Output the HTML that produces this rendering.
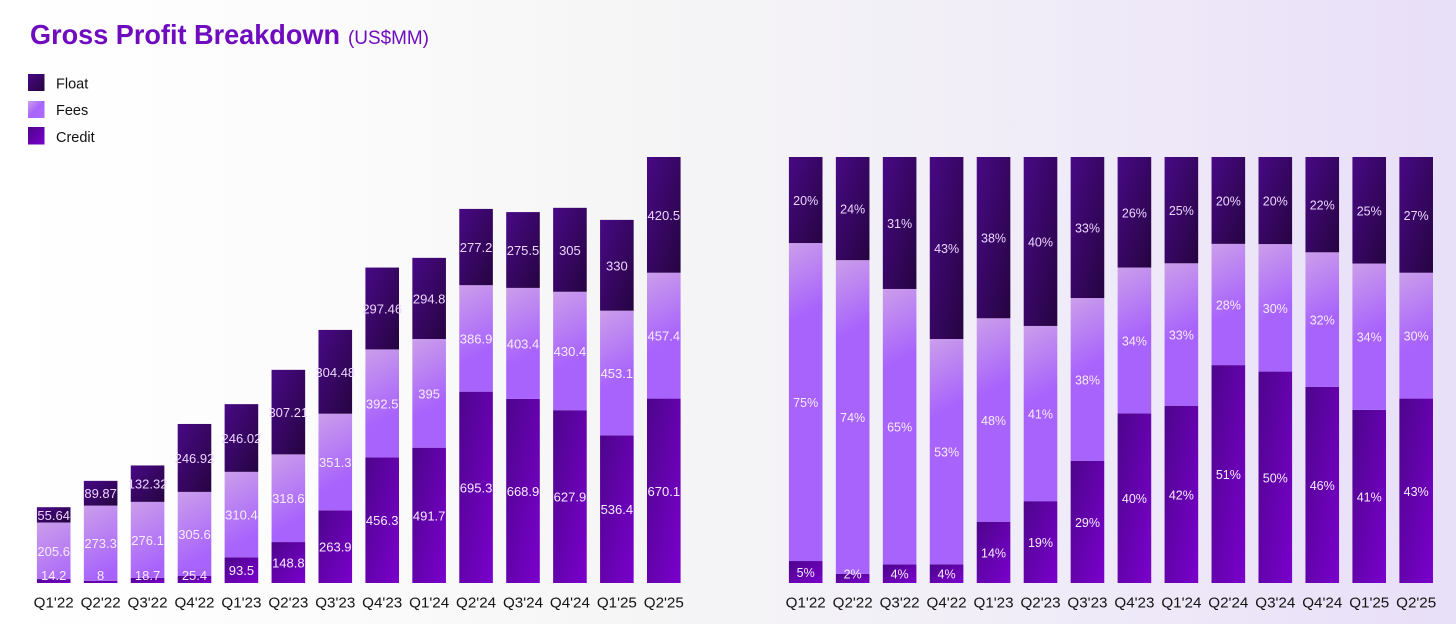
<!DOCTYPE html>
<html lang="en">
<head>
<meta charset="utf-8">
<title>Gross Profit Breakdown</title>
<style>
html,body{margin:0;padding:0;width:1456px;height:624px;overflow:hidden;background:#fff}
svg{display:block;font-family:"Liberation Sans",Arial,sans-serif}
</style>
</head>
<body>
<svg id="chart" xmlns="http://www.w3.org/2000/svg" width="1456" height="624" viewBox="0 0 1456 624">
  <defs id="chart-defs">
    <linearGradient id="bg" x1="0" y1="0" x2="1" y2="0">
      <stop offset="0" stop-color="#ffffff"/>
      <stop offset="0.2" stop-color="#fcfcfc"/>
      <stop offset="0.45" stop-color="#f5f5f6"/>
      <stop offset="0.62" stop-color="#f2f0f7"/>
      <stop offset="0.8" stop-color="#eee8f8"/>
      <stop offset="1" stop-color="#e8dff8"/>
    </linearGradient>
    <linearGradient id="grad-float" x1="0" y1="0" x2="1" y2="1">
      <stop offset="0" stop-color="#480985"/>
      <stop offset="1" stop-color="#260441"/>
    </linearGradient>
    <linearGradient id="grad-fees" x1="0" y1="0" x2="1" y2="1">
      <stop offset="0" stop-color="#cb9eea"/>
      <stop offset="0.5" stop-color="#a964fb"/>
      <stop offset="1" stop-color="#ad6cff"/>
    </linearGradient>
    <linearGradient id="grad-credit" x1="0" y1="0" x2="1" y2="1">
      <stop offset="0" stop-color="#4d058c"/>
      <stop offset="1" stop-color="#7a00cc"/>
    </linearGradient>
  </defs>

  <rect x="0" y="0" width="1456" height="624" fill="url(#bg)"/>

  <text x="30" y="44" font-size="28" font-weight="700" fill="#6f0cbf" textLength="310" lengthAdjust="spacingAndGlyphs">Gross Profit Breakdown</text>
  <text x="348" y="44" font-size="19" fill="#6f0cbf" textLength="81" lengthAdjust="spacingAndGlyphs">(US$MM)</text>

  <g>
    <g>
      <rect x="28" y="74" width="16.5" height="17" fill="url(#grad-float)"/>
      <text x="56" y="88.5" font-size="14.5" fill="#111">Float</text>
    </g>
    <g>
      <rect x="28" y="101" width="16.5" height="17" fill="url(#grad-fees)"/>
      <text x="56" y="115" font-size="14.5" fill="#111">Fees</text>
    </g>
    <g>
      <rect x="28" y="127" width="16.5" height="17.5" fill="url(#grad-credit)"/>
      <text x="56" y="142" font-size="14.5" fill="#111">Credit</text>
    </g>
  </g>

  <g id="left-chart"></g>
  <g id="right-chart"></g>
</svg>

<script>
const categories = ["Q1'22","Q2'22","Q3'22","Q4'22","Q1'23","Q2'23","Q3'23","Q4'23","Q1'24","Q2'24","Q3'24","Q4'24","Q1'25","Q2'25"];
const creditValues = [14.2,8,18.7,25.4,93.5,148.8,263.9,456.3,491.7,695.3,668.9,627.9,536.4,670.1];
const feesValues = [205.6,273.3,276.1,305.6,310.4,318.6,351.3,392.5,395,386.9,403.4,430.4,453.1,457.4];
const floatValues = [55.64,89.87,132.32,246.92,246.02,307.21,304.48,297.46,294.8,277.2,275.5,305,330,420.5];
const seriesKeys = ["credit","fees","float"];
const axisMaxValue = 1548;

const NS = "http://www.w3.org/2000/svg";
const baseY = 583;
const plotHeight = 426;
const barWidth = 33.6;
let feesGradientCount = 0;

function seriesAt(i) {
  return [creditValues[i], feesValues[i], floatValues[i]];
}
function xLeft(i) { return 36.9 + i * 46.93; }
function xRight(i) { return 788.9 + i * 46.96; }
function yLeft(v) { return baseY - (v / axisMaxValue) * plotHeight; }
function yShare(s) { return baseY - s * plotHeight; }

function addStop(gradient, offset, color) {
  const stop = document.createElementNS(NS, "stop");
  stop.setAttribute("offset", offset);
  stop.setAttribute("stop-color", color);
  gradient.appendChild(stop);
}

function feesFill(x, yTop) {
  feesGradientCount += 1;
  const id = "fees-segment-" + feesGradientCount;
  const gradient = document.createElementNS(NS, "linearGradient");
  gradient.setAttribute("id", id);
  gradient.setAttribute("gradientUnits", "userSpaceOnUse");
  gradient.setAttribute("x1", x);
  gradient.setAttribute("y1", yTop);
  gradient.setAttribute("x2", x + barWidth);
  gradient.setAttribute("y2", yTop + 62);
  addStop(gradient, 0, "#cb9eea");
  addStop(gradient, 1, "#a863fc");
  document.getElementById("chart-defs").appendChild(gradient);
  return "url(#" + id + ")";
}

function drawSegment(parent, chartKey, catIndex, seriesIndex, x, yTop, yBottom, labelText, labelMaxY) {
  const key = seriesKeys[seriesIndex];
  const rect = document.createElementNS(NS, "rect");
  
  
  rect.setAttribute("x", x);
  rect.setAttribute("y", yTop);
  rect.setAttribute("width", barWidth);
  rect.setAttribute("height", Math.max(yBottom - yTop, 0));
  rect.setAttribute("fill", key === "fees" ? feesFill(x, yTop) : "url(#grad-" + key + ")");
  parent.appendChild(rect);
  return function drawLabel() {
    const label = document.createElementNS(NS, "text");
    
    
    label.setAttribute("x", x + barWidth / 2);
    label.setAttribute("y", Math.min((yTop + yBottom) / 2, labelMaxY) + 5);
    label.setAttribute("text-anchor", "middle");
    label.setAttribute("font-size", chartKey === "abs" ? "13" : "12.5");
    label.setAttribute("fill", seriesIndex === 2 ? "#ecd6ff" : "#f6ecff");
    label.textContent = labelText;
    parent.appendChild(label);
  };
}

function drawAxisLabel(parent, x, text) {
  const tick = document.createElementNS(NS, "text");
  
  
  tick.setAttribute("x", x + barWidth / 2);
  tick.setAttribute("y", 607.5);
  tick.setAttribute("text-anchor", "middle");
  tick.setAttribute("font-size", "15.2");
  tick.setAttribute("fill", "#141414");
  tick.textContent = text;
  parent.appendChild(tick);
}

function drawLeft() {
  const parent = document.getElementById("left-chart");
  categories.forEach(function (cat, i) {
    const vals = seriesAt(i);
    const labels = [];
    let sum = 0;
    vals.forEach(function (v, s) {
      const bottom = yLeft(sum);
      sum += v;
      const top = yLeft(sum);
      labels.push(drawSegment(parent, "abs", i, s, xLeft(i), top, bottom, String(v), 575));
    });
    labels.forEach(function (fn) { fn(); });
    drawAxisLabel(parent, xLeft(i), cat);
  });
}

function drawRight() {
  const parent = document.getElementById("right-chart");
  categories.forEach(function (cat, i) {
    const vals = seriesAt(i);
    const total = vals[0] + vals[1] + vals[2];
    const labels = [];
    let sum = 0;
    vals.forEach(function (v, s) {
      const share = v / total;
      const bottom = yShare(sum);
      sum += share;
      const top = yShare(sum);
      labels.push(drawSegment(parent, "pct", i, s, xRight(i), top, bottom, Math.round(share * 100) + "%", 573.5));
    });
    labels.forEach(function (fn) { fn(); });
    drawAxisLabel(parent, xRight(i), cat);
  });
}

drawLeft();
drawRight();
</script>
</body>
</html>
